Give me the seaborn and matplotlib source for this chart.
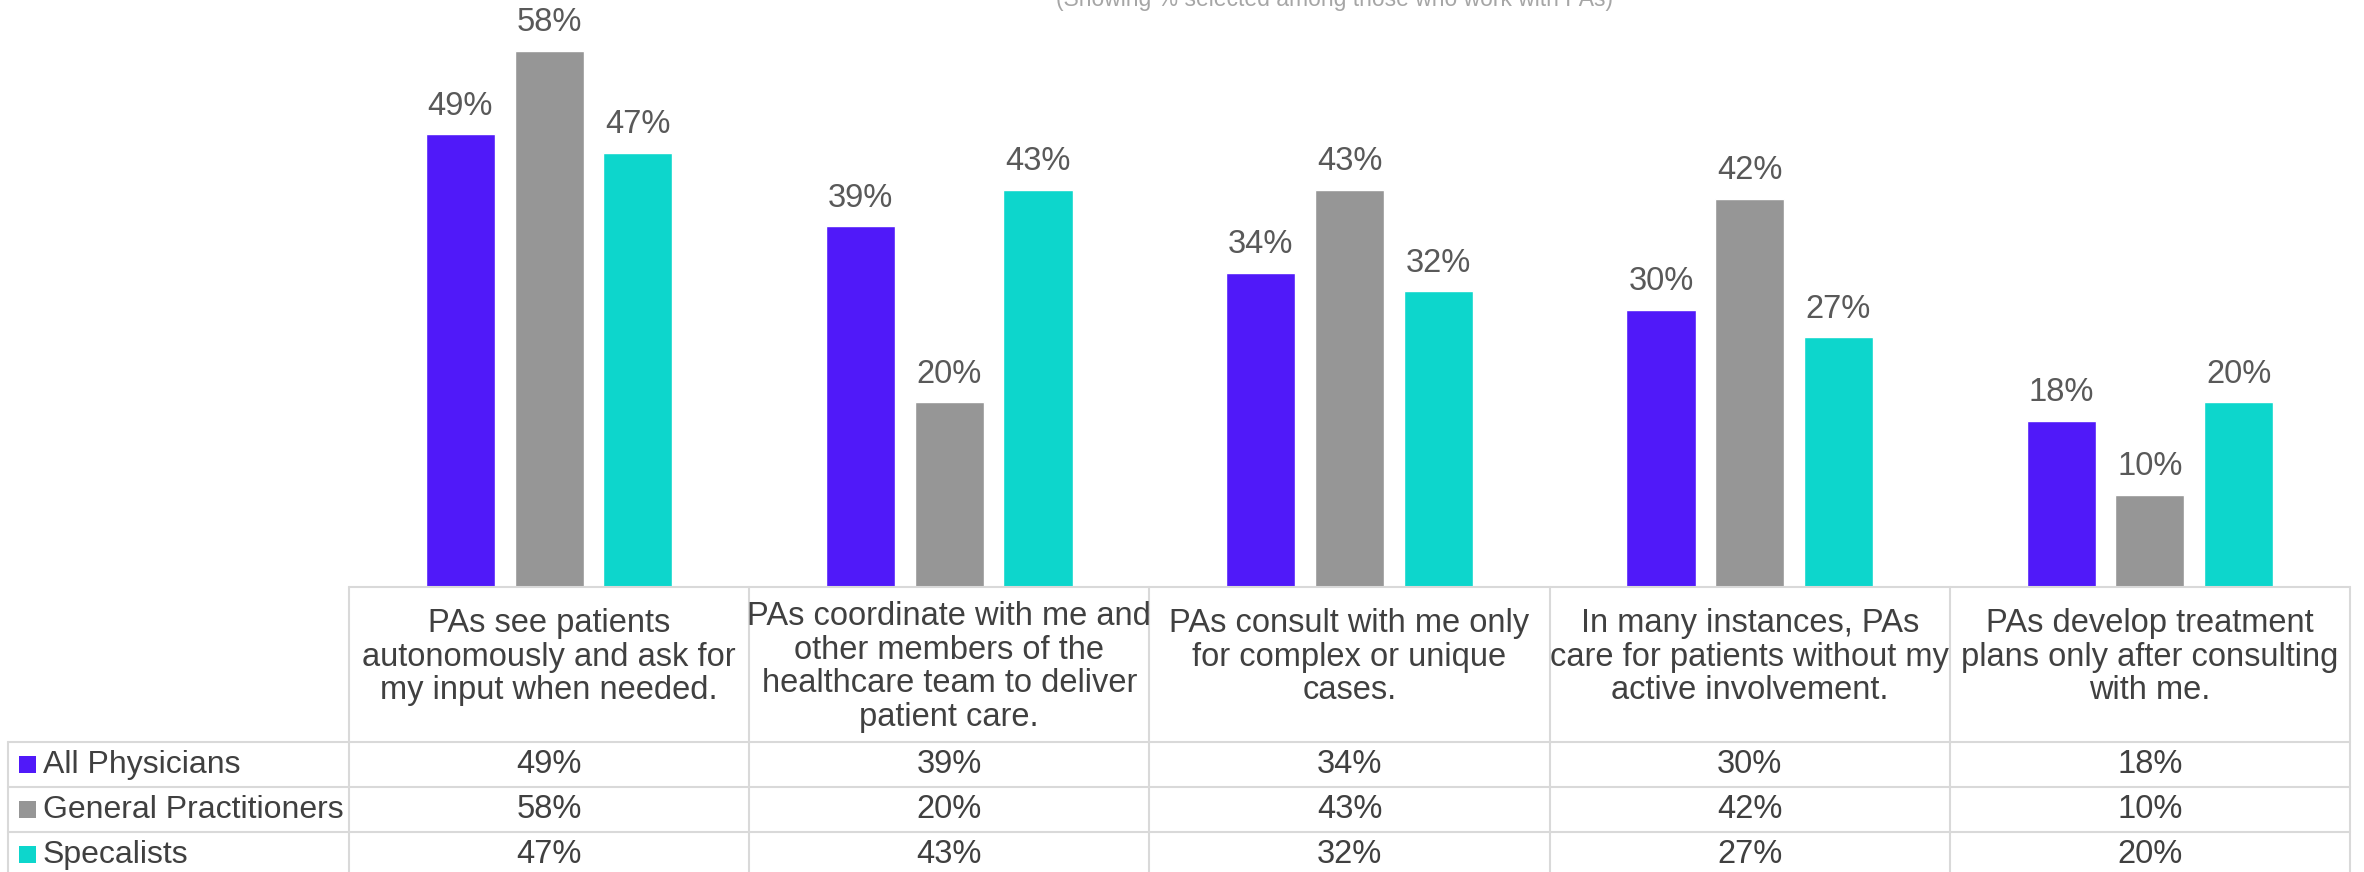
import matplotlib
matplotlib.use("Agg")
import matplotlib.pyplot as plt
from matplotlib.patches import Rectangle
import seaborn as sns
import pandas as pd

# data
statements = [
    "PAs see patients\nautonomously and ask for\nmy input when needed.",
    "PAs coordinate with me and\nother members of the\nhealthcare team to deliver\npatient care.",
    "PAs consult with me only\nfor complex or unique\ncases.",
    "In many instances, PAs\ncare for patients without my\nactive involvement.",
    "PAs develop treatment\nplans only after consulting\nwith me.",
]
groups = ["All Physicians", "General Practitioners", "Specalists"]
all_physicians = [49, 39, 34, 30, 18]
general_practitioners = [58, 20, 43, 42, 10]
specialists = [47, 43, 32, 27, 20]
subtitle = "(Showing % selected among those who work with PAs)"

colors = ["#5019F9", "#969696", "#0DD6CC"]

series = [all_physicians, general_practitioners, specialists]
rows = []
for g, vals in zip(groups, series):
    for i, v in enumerate(vals):
        rows.append({"statement": i, "group": g, "value": v})
df = pd.DataFrame(rows)

sns.set_style("white")
plt.rcParams["font.family"] = ["Liberation Sans", "DejaVu Sans"]

W, H = 2364, 872
fig = plt.figure(figsize=(W / 100, H / 100), dpi=100)

# plot area in pixels
x0, x1, ybot = 349, 2350, 587
ax = fig.add_axes([x0 / W, (H - ybot) / H, (x1 - x0) / W, ybot / H])

sns.barplot(data=df, x="statement", y="value", hue="group", hue_order=groups,
            palette=colors, width=0.665, gap=0.22, ax=ax, legend=False,
            errorbar=None, saturation=1, native_scale=True)

ax.set_xlim(-0.5, 4.5)
ax.set_ylim(0, 63.5)
ax.set_xticks([])
ax.set_yticks([])
ax.set_xlabel("")
ax.set_ylabel("")
for s in ax.spines.values():
    s.set_visible(False)

for cont in ax.containers:
    ax.bar_label(cont, labels=[f"{int(v)}%" for v in cont.datavalues],
                 padding=9, fontsize=23.5, color="#595959")

# subtitle, cut at the top edge as in the source
fig.text(1334 / W, 1 - 6 / H, subtitle, ha="center", va="baseline",
         fontsize=16.5, color="#a6a6a6")


def fy(py):
    return 1 - py / H


def fx(px):
    return px / W


line_kw = dict(color="#d9d9d9", lw=1.5, transform=fig.transFigure, clip_on=False)
row_edges = [742, 787, 832]
left_edge = 8

# table grid
fig.add_artist(plt.Line2D([fx(x0), fx(x1)], [fy(ybot), fy(ybot)], **line_kw))
for r in row_edges:
    fig.add_artist(plt.Line2D([fx(left_edge), fx(x1)], [fy(r), fy(r)], **line_kw))

col_w = (x1 - x0) / len(statements)
for k in range(len(statements) + 1):
    xp = x0 + k * col_w
    fig.add_artist(plt.Line2D([fx(xp), fx(xp)], [fy(ybot), fy(H)], **line_kw))
fig.add_artist(plt.Line2D([fx(left_edge), fx(left_edge)], [fy(row_edges[0]), fy(H)], **line_kw))

# header row
for k, txt in enumerate(statements):
    n = txt.count("\n") + 1
    cy = 662 + (n - 3.5) * 10
    fig.text(fx(x0 + (k + 0.5) * col_w), fy(cy), txt, ha="center", va="center",
             fontsize=23.5, color="#404040", linespacing=1.1)

# data rows with legend keys
row_centers = [764.5, 809.5, 854.5]
for g, vals, c, yc in zip(groups, series, colors, row_centers):
    fig.add_artist(Rectangle((fx(19), fy(yc + 8.5)), 17 / W, 17 / H,
                             facecolor=c, edgecolor="none", transform=fig.transFigure))
    fig.text(fx(43), fy(yc), g, ha="left", va="center", fontsize=23, color="#404040")
    for k, v in enumerate(vals):
        fig.text(fx(x0 + (k + 0.5) * col_w), fy(yc), f"{v}%", ha="center", va="center",
                 fontsize=23.5, color="#404040")

fig.savefig("out.png", dpi=100)
